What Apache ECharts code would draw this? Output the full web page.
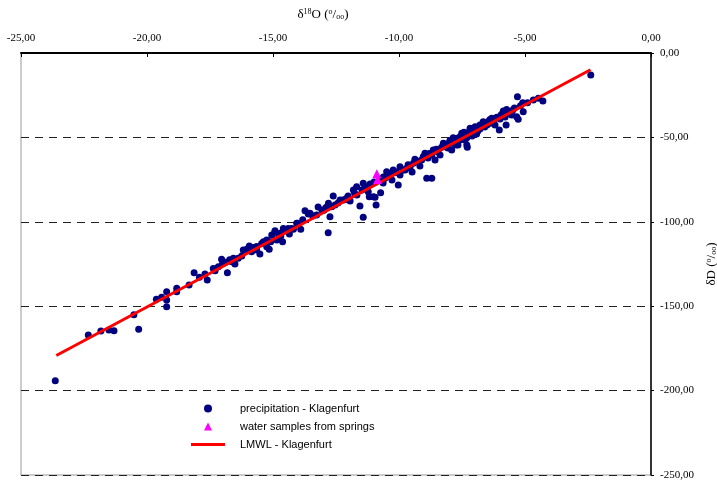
<!DOCTYPE html>
<html>
<head>
<meta charset="utf-8">
<script src="https://cdn.jsdelivr.net/npm/echarts@6/dist/echarts.min.js"></script>
<style>
  html, body { margin: 0; padding: 0; background: #fff; }
  #chart { width: 717px; height: 481px; }
</style>
</head>
<body>
<div id="chart"></div>
<script>
// delta 18O / delta D pairs
var precipitation = [
  [-23.64, -194.1], [-22.33, -167.1], [-21.83, -164.7], [-21.51, -164.1], [-21.31, -164.5],
  [-20.52, -155.0], [-20.33, -163.7], [-19.63, -145.9], [-19.42, -144.7], [-19.22, -141.4],
  [-19.22, -146.3], [-19.22, -150.3], [-18.82, -139.4], [-18.82, -141.4], [-18.33, -137.4],
  [-18.13, -130.2], [-17.92, -132.9], [-17.70, -130.9], [-17.61, -134.5], [-17.30, -129.0],
  [-17.17, -126.6], [-17.04, -122.2], [-17.00, -124.6], [-16.81, -130.2], [-16.64, -123.6],
  [-16.51, -125.0], [-16.38, -121.6], [-16.24, -120.3], [-16.04, -116.3], [-15.94, -114.3],
  [-15.85, -117.7], [-15.65, -116.7], [-15.52, -119.1], [-15.32, -112.4], [-15.25, -114.8],
  [-15.15, -116.3], [-15.09, -111.8], [-14.92, -105.9], [-14.85, -110.8], [-14.69, -108.4],
  [-14.62, -111.8], [-14.52, -105.3], [-14.35, -107.2], [-14.19, -104.4], [-14.03, -100.9],
  [-13.90, -104.4], [-13.73, -93.4], [-13.60, -95.4], [-13.53, -95.0], [-13.27, -96.0],
  [-12.81, -106.5], [-12.74, -97.0], [-12.80, -89.0], [-12.67, -91.1], [-12.61, -84.7],
  [-12.34, -87.1], [-12.08, -86.1], [-11.81, -81.2], [-11.68, -79.2], [-11.55, -90.6],
  [-11.42, -97.3], [-11.42, -77.2], [-11.22, -82.2], [-11.18, -85.1], [-11.02, -85.1],
  [-10.95, -85.5], [-10.91, -90.0], [-10.73, -82.8], [-10.56, -74.2], [-10.49, -70.3],
  [-10.42, -71.3], [-10.23, -69.3], [-10.03, -78.2], [-9.96, -72.3], [-9.96, -67.4],
  [-9.76, -69.3], [-9.69, -68.3], [-9.43, -65.3], [-9.37, -63.0], [-9.10, -63.4],
  [-9.04, -61.4], [-8.97, -59.4], [-8.90, -74.2], [-8.70, -74.2], [-8.70, -60.4],
  [-8.64, -57.5], [-8.57, -63.4], [-8.31, -55.9], [-8.24, -53.5], [-8.17, -55.5],
  [-7.91, -53.5], [-7.91, -57.5], [-7.85, -50.2], [-7.74, -54.5], [-7.58, -51.5],
  [-7.58, -49.6], [-7.51, -47.6], [-7.45, -48.6], [-7.31, -50.2], [-7.31, -54.5],
  [-7.29, -55.9], [-7.21, -46.6], [-7.18, -44.6], [-7.18, -47.6], [-7.05, -45.6],
  [-6.98, -43.7], [-6.92, -48.0], [-6.79, -42.7], [-6.66, -40.7], [-6.46, -40.7],
  [-6.39, -41.6], [-6.32, -38.7], [-6.12, -38.1], [-6.06, -38.3], [-6.02, -45.6],
  [-5.86, -34.4], [-5.75, -42.7], [-5.73, -33.4], [-5.66, -35.7], [-5.53, -36.7],
  [-5.33, -37.7], [-5.27, -39.3], [-5.30, -25.9], [-5.09, -29.4], [-5.07, -34.8],
  [-4.67, -27.8], [-4.47, -26.8], [-4.29, -28.4], [-2.39, -13.0],
  [-17.37, -127.6], [-16.57, -121.6], [-16.18, -116.7], [-15.65, -114.7], [-15.38, -111.8],
  [-15.25, -110.8], [-15.05, -107.8], [-14.92, -105.3], [-14.72, -106.8], [-14.59, -103.9],
  [-14.46, -104.9], [-14.26, -103.9], [-14.06, -100.9],
  [-13.21, -91.2], [-13.06, -93.0], [-12.54, -90.0], [-12.42, -88.9], [-12.22, -87.1],
  [-12.02, -84.7], [-11.94, -87.7], [-11.67, -84.1], [-11.47, -81.2], [-11.35, -79.4],
  [-11.15, -77.6], [-10.99, -76.4], [-10.75, -75.2], [-10.63, -77.0], [-10.36, -72.9],
  [-10.28, -75.2], [-10.12, -70.5], [-9.84, -69.3], [-9.56, -67.5], [-9.48, -70.5],
  [-9.25, -64.6], [-9.17, -66.9], [-8.85, -62.2], [-8.45, -58.6], [-8.37, -60.4],
  [-8.06, -56.3], [-7.78, -52.7], [-7.66, -54.5], [-7.38, -51.5], [-7.10, -49.2],
  [-6.87, -46.2], [-6.79, -45.0], [-6.60, -43.8], [-6.51, -42.7], [-6.27, -40.9],
  [-6.19, -42.7], [-5.99, -39.1], [-5.91, -36.1], [-5.79, -37.9], [-5.60, -35.0],
  [-5.48, -33.8],
  [-16.90, -124.0], [-16.72, -122.5], [-15.78, -115.2], [-15.45, -112.9], [-14.78, -107.5],
  [-14.40, -104.0], [-13.82, -98.8], [-13.42, -96.5], [-12.98, -93.2], [-12.90, -91.6],
  [-12.15, -86.9], [-11.76, -83.1], [-11.30, -79.8], [-10.62, -73.5], [-10.18, -70.9],
  [-9.64, -66.2], [-9.30, -63.8], [-8.80, -59.5], [-8.52, -57.0], [-8.10, -53.9],
  [-7.98, -51.8], [-7.68, -50.5], [-7.42, -47.0], [-7.00, -45.2], [-6.72, -43.0],
  [-6.40, -39.5], [-6.22, -38.9], [-5.95, -36.8], [-5.70, -34.6], [-5.42, -32.6],
  [-5.18, -31.2], [-4.90, -29.5]
];
var springs = [[-10.88, -71.5], [-10.85, -75.0]];
var lmwl = [[-23.6, -179.2], [-2.4, -9.9]];

var xMin = -25, xMax = 0, xStep = 5;
var yMin = -250, yMax = 0, yStep = 50;

function comma (v) {
  return v.toFixed(2).replace('.', ',');
}

var chart = echarts.init(document.getElementById('chart'));

var serif = '"Liberation Serif", "Times New Roman", serif';
var sans = '"Liberation Sans", Arial, sans-serif';

var nameRich = {
  a: { fontFamily: serif, fontSize: 13, color: '#000' },
  sup: { fontFamily: serif, fontSize: 8, color: '#000', verticalAlign: 'top', padding: [0, 0, 5, 0] },
  sub: { fontFamily: serif, fontSize: 8, color: '#000', verticalAlign: 'bottom', padding: [4, 0, 0, 0] }
};

// legend icons drawn in a 34x8 box so they are not stretched
var triIcon = 'path://M0,0L0.01,0Z M34,8L33.99,8Z M13,8L17,0L21,8Z';
var lineIcon = 'path://M0,0L0.01,0Z M34,8L33.99,8Z M0,2.5H34V5.5H0Z';

var option = {
  backgroundColor: '#fff',
  animation: false,
  grid: {
    left: 21,
    right: 66,
    top: 53,
    bottom: 6,
    outerBoundsMode: 'none',
    show: true,
    borderColor: '#999',
    borderWidth: 1
  },
  legend: {
    orient: 'vertical',
    left: 191,
    top: 403,
    padding: 0,
    itemWidth: 34,
    itemHeight: 8,
    itemGap: 7,
    textStyle: { fontFamily: sans, fontSize: 11, color: '#000', padding: [0, 0, 0, 10] },
    data: [
      { name: 'precipitation - Klagenfurt', icon: 'circle' },
      { name: 'water samples from springs', icon: triIcon },
      { name: 'LMWL - Klagenfurt', icon: lineIcon }
    ]
  },
  xAxis: {
    type: 'value',
    position: 'top',
    min: xMin,
    max: xMax,
    interval: xStep,
    name: '{a|δ}{sup|18}{a|O (}{sup|o}{a|/}{sub|oo}{a|)}',
    nameLocation: 'middle',
    nameGap: 32,
    nameTextStyle: { padding: [0, 26, 0, 0], rich: nameRich },
    axisLine: { lineStyle: { color: '#000', width: 2 } },
    axisTick: { inside: true, length: 4, lineStyle: { color: '#000' } },
    axisLabel: {
      margin: 9,
      fontFamily: serif,
      fontSize: 11,
      color: '#000',
      formatter: comma
    },
    splitLine: { show: false }
  },
  yAxis: {
    type: 'value',
    position: 'right',
    min: yMin,
    max: yMax,
    interval: yStep,
    name: '{a|δD (}{sup|o}{a|/}{sub|oo}{a|)}',
    nameLocation: 'middle',
    nameGap: 51,
    nameRotate: 90,
    nameTextStyle: { rich: nameRich },
    axisLine: { show: true, lineStyle: { color: '#000', width: 1.5 } },
    axisTick: { show: true, length: 3, lineStyle: { color: '#000' } },
    axisLabel: {
      margin: 9,
      fontFamily: serif,
      fontSize: 11,
      color: '#000',
      formatter: comma
    },
    splitLine: { show: true, lineStyle: { color: '#222', width: 1, type: [8, 6] } }
  },
  series: [
    {
      name: 'precipitation - Klagenfurt',
      type: 'scatter',
      symbol: 'circle',
      symbolSize: 7,
      itemStyle: { color: '#000080', opacity: 1 },
      data: precipitation,
      z: 2
    },
    {
      name: 'water samples from springs',
      type: 'scatter',
      symbol: 'triangle',
      symbolSize: 9,
      itemStyle: { color: '#ff00ff', opacity: 1 },
      data: springs,
      z: 4
    },
    {
      name: 'LMWL - Klagenfurt',
      type: 'line',
      symbol: 'none',
      lineStyle: { color: '#ff0000', width: 3 },
      itemStyle: { color: '#ff0000' },
      data: lmwl,
      z: 3
    }
  ]
};

chart.setOption(option);
</script>
</body>
</html>
